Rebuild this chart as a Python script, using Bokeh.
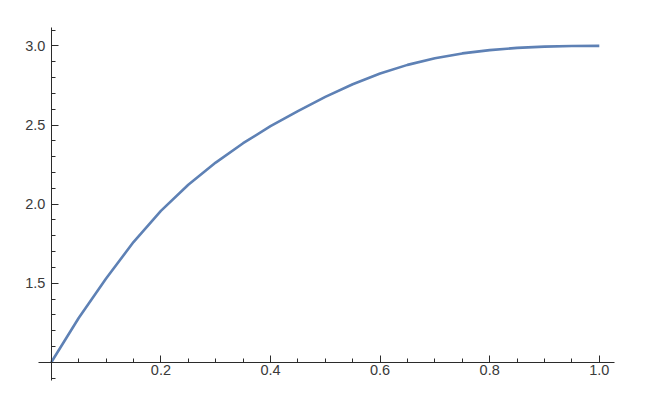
from bokeh.plotting import figure
from bokeh.models import LinearAxis, FixedTicker, Range1d, ColumnDataSource
from bokeh.core.properties import value
from bokeh.embed import file_html
from bokeh.resources import INLINE

# Curve values
xs = [0.0, 0.05, 0.1, 0.15, 0.2, 0.25, 0.3, 0.35, 0.4, 0.45, 0.5,
      0.55, 0.6, 0.65, 0.7, 0.75, 0.8, 0.85, 0.9, 0.95, 1.0]
ys = [1.0, 1.28, 1.53, 1.76, 1.9575, 2.1225, 2.2625, 2.385, 2.4925, 2.5875, 2.6775,
      2.7575, 2.825, 2.88, 2.9225, 2.9525, 2.9735, 2.9875, 2.9955, 2.999, 3.0]

x_major = [0.2, 0.4, 0.6, 0.8, 1.0]
x_minor = [0.05, 0.1, 0.15, 0.25, 0.3, 0.35, 0.45, 0.5, 0.55, 0.65, 0.7, 0.75, 0.85, 0.9, 0.95]
y_major = [1.5, 2.0, 2.5, 3.0]
y_minor = [0.9, 1.1, 1.2, 1.3, 1.4, 1.6, 1.7, 1.8, 1.9, 2.1, 2.2, 2.3, 2.4, 2.6, 2.7, 2.8, 2.9, 3.1]
x_origin, y_origin = 0.0, 1.0
x_axis_extent = (-0.0234, 1.0274)
y_axis_extent = (0.885, 3.118)

W, H = 648, 403
p = figure(width=W, height=H, output_backend="svg", toolbar_location=None,
           x_axis_type=None, y_axis_type=None,
           x_range=Range1d(-0.07445, 1.07153), y_range=Range1d(0.80278, 3.22377),
           min_border_left=10, min_border_right=10, min_border_top=10, min_border_bottom=10)
p.outline_line_color = None
p.xgrid.visible = False
p.ygrid.visible = False
p.background_fill_color = "white"
p.border_fill_color = "white"

axis_color = "#2b2b2b"
label_color = "#3a3a3a"

xaxis = LinearAxis(fixed_location=y_origin, bounds=x_axis_extent,
                   ticker=FixedTicker(ticks=x_major, minor_ticks=x_minor))
yaxis = LinearAxis(fixed_location=x_origin, bounds=y_axis_extent,
                   ticker=FixedTicker(ticks=y_major, minor_ticks=y_minor))
for ax in (xaxis, yaxis):
    ax.axis_line_color = axis_color
    ax.axis_line_width = 1
    ax.major_tick_in = 7
    ax.major_tick_out = 0
    ax.minor_tick_in = 4
    ax.minor_tick_out = 0
    ax.major_tick_line_color = axis_color
    ax.minor_tick_line_color = axis_color
    ax.major_label_text_font_size = "0px"
    ax.major_label_standoff = 0
    ax.major_label_text_alpha = 0
p.add_layout(xaxis, "below")
p.add_layout(yaxis, "left")

# tick labels, positioned at the tick values
xl = ColumnDataSource(dict(x=x_major, y=[y_origin] * len(x_major),
                           t=[f"{v:.1f}" for v in x_major]))
yl = ColumnDataSource(dict(x=[x_origin] * len(y_major), y=y_major,
                           t=[f"{v:.1f}" for v in y_major]))
p.text(x="x", y="y", text="t", source=xl, text_align="center", text_baseline="top",
       y_offset=3, text_font=value("Liberation Sans"), text_font_size="14.5px",
       text_color=label_color)
p.text(x="x", y="y", text="t", source=yl, text_align="right", text_baseline="middle",
       x_offset=-6, text_font=value("Liberation Sans"), text_font_size="14.5px",
       text_color=label_color)

p.line(xs, ys, line_color="#5E81B5", line_width=2.6, line_join="round")

open("out.html", "w").write(file_html(p, INLINE))
